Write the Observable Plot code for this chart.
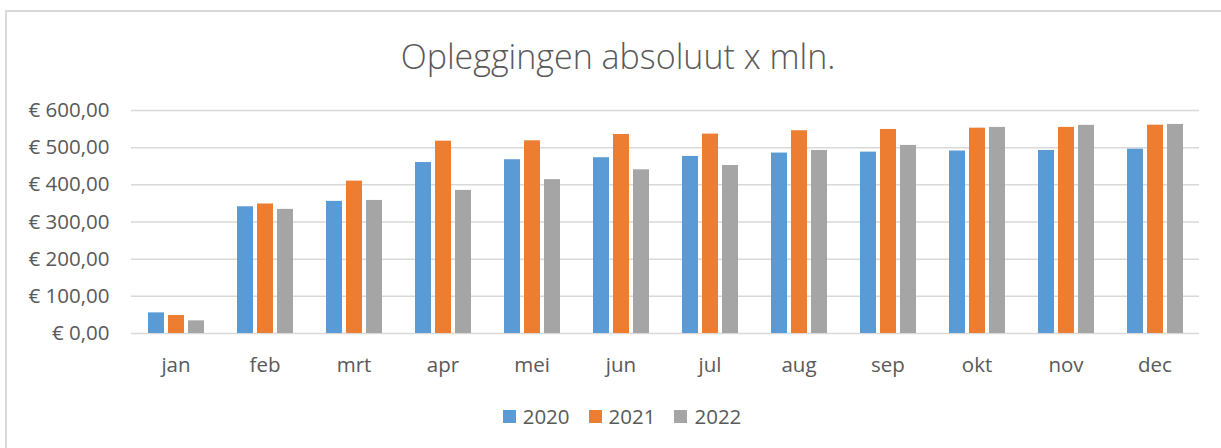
<!DOCTYPE html>
<html><head><meta charset="utf-8">
<script src="https://cdn.jsdelivr.net/npm/d3@7"></script>
<script src="https://cdn.jsdelivr.net/npm/@observablehq/plot@0.6"></script>
<style>
body{margin:0;background:#fff;}
#root{position:relative;width:1221px;height:448px;overflow:hidden;font-family:"Open Sans",sans-serif;color:#595959;}
#frame{position:absolute;left:5px;top:10px;width:1300px;height:500px;border:2px solid #d9d9d9;box-sizing:border-box;}
#title{position:absolute;top:34px;left:0;width:1236px;text-align:center;font-size:34px;font-weight:300;line-height:44px;}
#chart{position:absolute;left:0;top:90px;}
#legend{position:absolute;top:402px;left:0;width:1244px;display:flex;justify-content:center;gap:19px;font-size:20.5px;line-height:28px;}
#legend .item{display:flex;align-items:center;gap:7px;}
#legend .sw{width:13px;height:13px;display:inline-block;}
</style>
</head><body>
<div id="root">
  <div id="frame"></div>
  <div id="title">Opleggingen absoluut x mln.</div>
  <div id="chart"></div>
  <div id="legend"></div>
</div>
<script>
const months = ["jan","feb","mrt","apr","mei","jun","jul","aug","sep","okt","nov","dec"];
const years = ["2020","2021","2022"];
const colors = ["#5B9BD5","#ED7D31","#A5A5A5"];
const v2020 = [55.5, 341, 355.5, 460, 467.5, 473, 476.5, 485.5, 488, 491, 492.5, 496];
const v2021 = [48.5, 348.5, 410, 517.5, 518.5, 535.5, 536.5, 545.5, 549, 552.5, 554.5, 560.5];
const v2022 = [34, 334, 358, 385, 414, 440.5, 452, 492.5, 506, 554.5, 560, 562.5];
const yTicks = [0, 100, 200, 300, 400, 500, 600];

const series = [v2020, v2021, v2022];
const rows = [];
months.forEach((m, i) => years.forEach((y, j) => rows.push({month: m, year: y, value: series[j][i]})));

const fmt = d => "€ " + d.toFixed(2).replace(".", ",");

const chart = Plot.plot({
  width: 1221,
  height: 290,
  marginTop: 20,
  marginBottom: 47,
  marginLeft: 130,
  marginRight: 21,
  style: {fontFamily: "'Open Sans', sans-serif", fontSize: "20.5px", color: "#595959", background: "transparent"},
  fx: {domain: months, padding: 0, label: null, axis: null},
  x: {domain: years, paddingInner: 0.2, paddingOuter: 0.8, axis: null},
  y: {domain: [0, 600], label: null},
  color: {domain: years, range: colors},
  marks: [
    Plot.ruleY(yTicks, {stroke: "#d9d9d9", strokeWidth: 1.5}),
    Plot.barY(rows, {fx: "month", x: "year", y: "value", fill: "year"}),
    Plot.axisY(yTicks, {tickSize: 0, tickPadding: 22, tickFormat: fmt, label: null}),
    Plot.axisFx({anchor: "bottom", tickSize: 0, tickPadding: 24, label: null})
  ]
});
document.getElementById("chart").appendChild(chart);

const legend = document.getElementById("legend");
years.forEach((y, j) => {
  const it = document.createElement("span");
  it.className = "item";
  it.innerHTML = `<span class="sw" style="background:${colors[j]}"></span><span>${y}</span>`;
  legend.appendChild(it);
});
</script>
</body></html>
